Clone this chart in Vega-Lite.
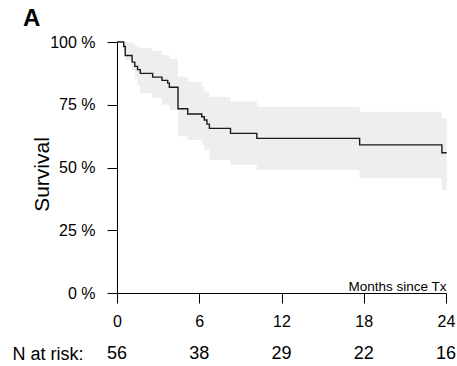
{
  "$schema": "https://vega.github.io/schema/vega-lite/v6.json",
  "background": "white",
  "padding": {"left": 11, "top": 7, "right": 2, "bottom": 0},
  "title": {"text": "A", "anchor": "start", "frame": "bounds", "fontSize": 24, "fontWeight": "bold", "font": "Liberation Sans", "color": "black", "dx": 11, "offset": 3},
  "config": {
    "font": "Liberation Sans",
    "view": {"stroke": null},
    "axis": {"grid": false, "domainColor": "black", "tickColor": "black", "labelColor": "black", "titleColor": "black", "labelFont": "Liberation Sans", "titleFont": "Liberation Sans"}
  },
  "spacing": 15,
  "datasets": {
    "km": [
      {"t": 0, "s": 100},
      {"t": 0.49, "s": 98.2},
      {"t": 0.6, "s": 94.6},
      {"t": 1.1, "s": 92.0},
      {"t": 1.3, "s": 90.3},
      {"t": 1.5, "s": 89.0},
      {"t": 1.7, "s": 87.5},
      {"t": 2.6, "s": 86.0},
      {"t": 3.28, "s": 84.7},
      {"t": 3.7, "s": 83.6},
      {"t": 3.82, "s": 82.0},
      {"t": 4.45, "s": 73.4},
      {"t": 5.16, "s": 71.3},
      {"t": 6.18, "s": 70.2},
      {"t": 6.37, "s": 68.9},
      {"t": 6.56, "s": 67.3},
      {"t": 6.74, "s": 65.6},
      {"t": 8.28, "s": 63.6},
      {"t": 10.2, "s": 61.6},
      {"t": 17.7, "s": 59.0},
      {"t": 23.7, "s": 55.9},
      {"t": 24.05, "s": 55.9}
    ],
    "band": [
      {"t": 0, "lo": 100, "hi": 100},
      {"t": 0.49, "lo": 95.5, "hi": 100},
      {"t": 0.6, "lo": 92.6, "hi": 100},
      {"t": 1.1, "lo": 88.5, "hi": 99.5},
      {"t": 1.3, "lo": 85.5, "hi": 98.6},
      {"t": 1.5, "lo": 82.5, "hi": 98.0},
      {"t": 1.7, "lo": 79.6, "hi": 97.5},
      {"t": 2.6, "lo": 77.7, "hi": 96.5},
      {"t": 3.28, "lo": 75.0, "hi": 94.8},
      {"t": 3.82, "lo": 72.9, "hi": 93.2},
      {"t": 4.45, "lo": 62.5, "hi": 86.2},
      {"t": 5.16, "lo": 61.0, "hi": 84.2},
      {"t": 6.18, "lo": 59.0, "hi": 82.3},
      {"t": 6.37, "lo": 57.0, "hi": 80.3},
      {"t": 6.74, "lo": 53.0, "hi": 78.2},
      {"t": 8.28, "lo": 51.0, "hi": 76.3},
      {"t": 10.2, "lo": 49.0, "hi": 74.2},
      {"t": 17.7, "lo": 45.7, "hi": 72.2},
      {"t": 23.7, "lo": 41.0, "hi": 69.6},
      {"t": 24.05, "lo": 41.0, "hi": 69.6}
    ],
    "risk": [
      {"t": 0, "row": "N at risk:", "n": 56},
      {"t": 6, "row": "N at risk:", "n": 38},
      {"t": 12, "row": "N at risk:", "n": 29},
      {"t": 18, "row": "N at risk:", "n": 22},
      {"t": 24, "row": "N at risk:", "n": 16}
    ]
  },
  "vconcat": [
    {
      "width": 329,
      "height": 251,
      "layer": [
        {
          "data": {"name": "band"},
          "mark": {"type": "area", "interpolate": "step-after", "color": "#eeeeee", "opacity": 1},
          "encoding": {
            "x": {"field": "t", "type": "quantitative", "scale": {"domain": [0, 24]},
              "axis": {"values": [0, 6, 12, 18, 24], "title": "Months since Tx", "titleAlign": "right", "titleX": 329, "titleY": -3, "titleBaseline": "alphabetic", "titleFontSize": 13.5, "titleFontWeight": "normal", "labelFontSize": 16, "tickSize": 10, "labelPadding": 10, "labelFlush": false}},
            "y": {"field": "lo", "type": "quantitative", "scale": {"domain": [0, 100]},
              "axis": {"values": [0, 25, 50, 75, 100], "labelExpr": "datum.value + ' %'", "labelFontSize": 16, "tickSize": 10, "labelPadding": 12, "title": "Survival", "titleFontSize": 21, "titleFontWeight": "normal", "titlePadding": -3, "titleY": 132, "labelFlush": false}},
            "y2": {"field": "hi"}
          }
        },
        {
          "data": {"name": "km"},
          "mark": {"type": "line", "interpolate": "step-after", "color": "#1a1a1a", "strokeWidth": 1.4},
          "encoding": {
            "x": {"field": "t", "type": "quantitative"},
            "y": {"field": "s", "type": "quantitative"}
          }
        }
      ]
    },
    {
      "width": 329,
      "height": 20,
      "data": {"name": "risk"},
      "mark": {"type": "text", "fontSize": 18, "color": "black", "font": "Liberation Sans"},
      "encoding": {
        "x": {"field": "t", "type": "quantitative", "scale": {"domain": [0, 24]}, "axis": null},
        "y": {"field": "row", "type": "nominal", "axis": {"title": null, "domain": false, "ticks": false, "labelFontSize": 18, "labelPadding": 34, "labelColor": "black"}},
        "text": {"field": "n", "type": "quantitative"}
      }
    }
  ]
}
